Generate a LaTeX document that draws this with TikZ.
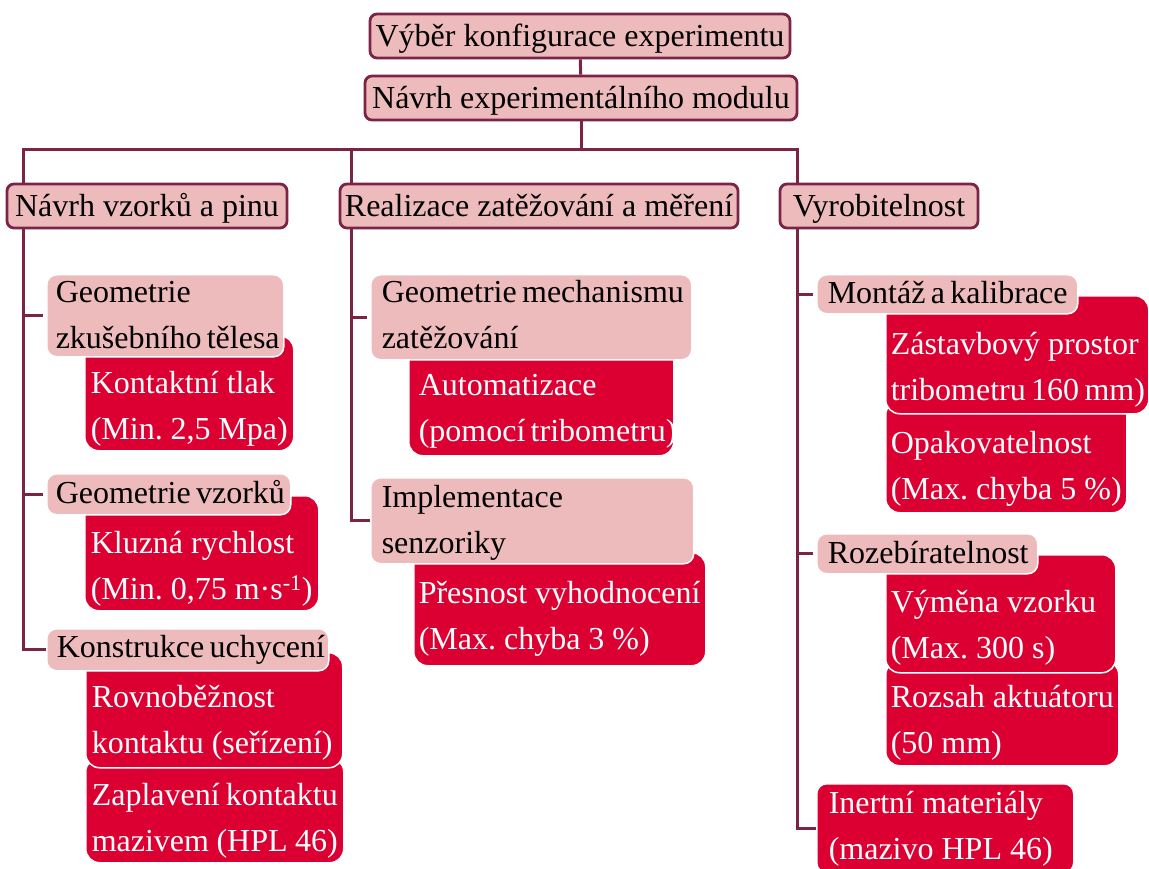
\documentclass[tikz,border=0pt]{standalone}
\usepackage{fontspec}
\setmainfont{Liberation Serif}
\usepackage{tikz}
\usepackage{xcolor}

\definecolor{wine}{HTML}{7B2445}
\definecolor{rose}{HTML}{EEBBBC}
\definecolor{crimson}{HTML}{DC0032}
\newcommand{\boxfont}{\fontsize{32}{46}\selectfont\hyphenpenalty=10000\exhyphenpenalty=10000}

\begin{document}
\begin{tikzpicture}[x=1pt,y=-1pt]
\tikzset{
    lvl0/.style={%
        draw=wine, line width=2.8pt,
        fill=rose,
        rectangle,
        rounded corners=7pt,
        inner sep=0pt,
        text height=21pt, text depth=0pt,
        minimum height=44pt,
        font=\boxfont
        },
    lvl1/.style={%
        draw=white, line width=1.5pt,
        fill=rose,
        rectangle,
        rounded corners=10pt,
        anchor=north west, align=flush left,
        inner ysep=0pt,
        font=\boxfont
        },
    lvl2/.style={%
        draw=white, line width=1.5pt,
        fill=crimson, text=white,
        rectangle,
        rounded corners=14pt,
        anchor=north west, align=flush left,
        inner ysep=0pt,
        font=\boxfont
        },
    link/.style={draw=wine, line width=3pt},
}
\useasboundingbox (0,0) rectangle (1149,869);
%%%TOP LEVEL
\node[lvl0, minimum width=420pt] (konfig) at (580,36) {Výběr konfigurace experimentu};
\node[lvl0, minimum width=432pt] (modul) at (581,98) {Návrh experimentálního modulu};
\node[lvl0, minimum width=280pt] (vzorky) at (147,206) {Návrh vzorků a pinu};
\node[lvl0, minimum width=398pt] (realiz) at (539,206) {Realizace zatěžování a měření};
\node[lvl0, minimum width=198pt] (vyrob) at (879,206) {Vyrobitelnost};
%%%VZORKY
\node[lvl2, inner xsep=6pt, text width=197pt, text height=58pt, text depth=57pt] (tlak) at (84,335) {Kontaktní~tlak\\(Min.~2,5~Mpa)};
\node[lvl1, inner xsep=9pt, text width=219pt, text height=28pt, text depth=54pt] (telesa) at (46,274) {Geometrie\\zkušebního~tělesa};
\node[lvl2, inner xsep=6pt, text width=222pt, text height=58pt, text depth=57pt] (rychl) at (84,495) {Kluzná~rychlost\\(Min.~0,75~m·s\textsuperscript{-1})};
\node[lvl1, inner xsep=9pt, text width=226pt, text height=30pt, text depth=11pt] (geovz) at (46,473) {Geometrie~vzorků};
\node[lvl2, inner xsep=6pt, text width=246pt, text height=48pt, text depth=57pt] (zaplav) at (85,757) {Zaplavení~kontaktu\\mazivem~(HPL~46)};
\node[lvl2, inner xsep=6pt, text width=245pt, text height=55pt, text depth=60pt] (rovnob) at (85,652) {Rovnoběžnost\\kontaktu~(seřízení)};
\node[lvl1, inner xsep=10pt, text width=262pt, text height=29pt, text depth=13pt] (uchyc) at (46,628) {Konstrukce~uchycení};
%%%ZATEZOVANI
\node[lvl2, inner xsep=10pt, text width=245pt, text height=55pt, text depth=60pt] (autom) at (408,340) {Automatizace\\(pomocí~tribometru)};
\node[lvl1, inner xsep=11pt, text width=299pt, text height=28pt, text depth=57pt] (mech) at (370,274) {Geometrie~mechanismu\\zatěžování};
\node[lvl2, inner xsep=5pt, text width=282pt, text height=51pt, text depth=62pt] (presn) at (413,552) {Přesnost~vyhodnocení\\(Max.~chyba~3~\%)};
\node[lvl1, inner xsep=11pt, text width=301pt, text height=30pt, text depth=56pt] (senz) at (370,477) {Implementace\\senzoriky};
%%%VYROBITELNOST
\node[lvl2, inner xsep=5pt, text width=231pt, text height=53pt, text depth=59pt] (opak) at (885,400) {Opakovatelnost\\(Max.~chyba~5~\%)};
\node[lvl2, inner xsep=5pt, text width=253pt, text height=59pt, text depth=59pt] (zastav) at (885,295) {Zástavbový~prostor\\tribometru~160~mm)};
\node[lvl1, inner xsep=11pt, text width=239pt, text height=29pt, text depth=10pt] (montaz) at (816,274) {Montáž~a~kalibrace};
\node[lvl2, inner xsep=5pt, text width=223pt, text height=47pt, text depth=58pt] (rozsah) at (885,660) {Rozsah~aktuátoru\\(50~mm)};
\node[lvl2, inner xsep=5pt, text width=220pt, text height=58pt, text depth=60pt] (vymena) at (885,554) {Výměna~vzorku\\(Max.~300~s)};
\node[lvl1, inner xsep=11pt, text width=199pt, text height=30pt, text depth=10pt] (rozeb) at (816,533) {Rozebíratelnost};
\node[lvl2, rounded corners=10pt, inner xsep=12pt, text width=233pt, text height=30pt, text depth=59pt] (inert) at (816,783) {Inertní~materiály\\(mazivo~HPL~46)};
%%%LINKS
\coordinate (bus) at (580,150);
\coordinate (sA) at (23,228);
\coordinate (sB) at (351,228);
\coordinate (sC) at (797,228);
\draw[link] (konfig) -- (modul);
\draw[link] (modul.south) -- (modul.south |- bus);
\draw[link] (sA |- vzorky.north) |- (bus) -| (sC |- vyrob.north);
\draw[link] (sB |- realiz.north) -- (sB |- bus);
\draw[link] (sA |- vzorky.south) |- (uchyc.west);
\draw[link, shorten >=3pt] (sA |- telesa.west) -- (telesa.west);
\draw[link, shorten >=3pt] (sA |- geovz.west) -- (geovz.west);
\draw[link] (sB |- realiz.south) |- (senz.west);
\draw[link, shorten >=3pt] (sB |- mech.west) -- (mech.west);
\draw[link] (sC |- vyrob.south) |- (inert.west);
\draw[link, shorten >=3pt] (sC |- montaz.west) -- (montaz.west);
\draw[link, shorten >=3pt] (sC |- rozeb.west) -- (rozeb.west);
\end{tikzpicture}
\end{document}
